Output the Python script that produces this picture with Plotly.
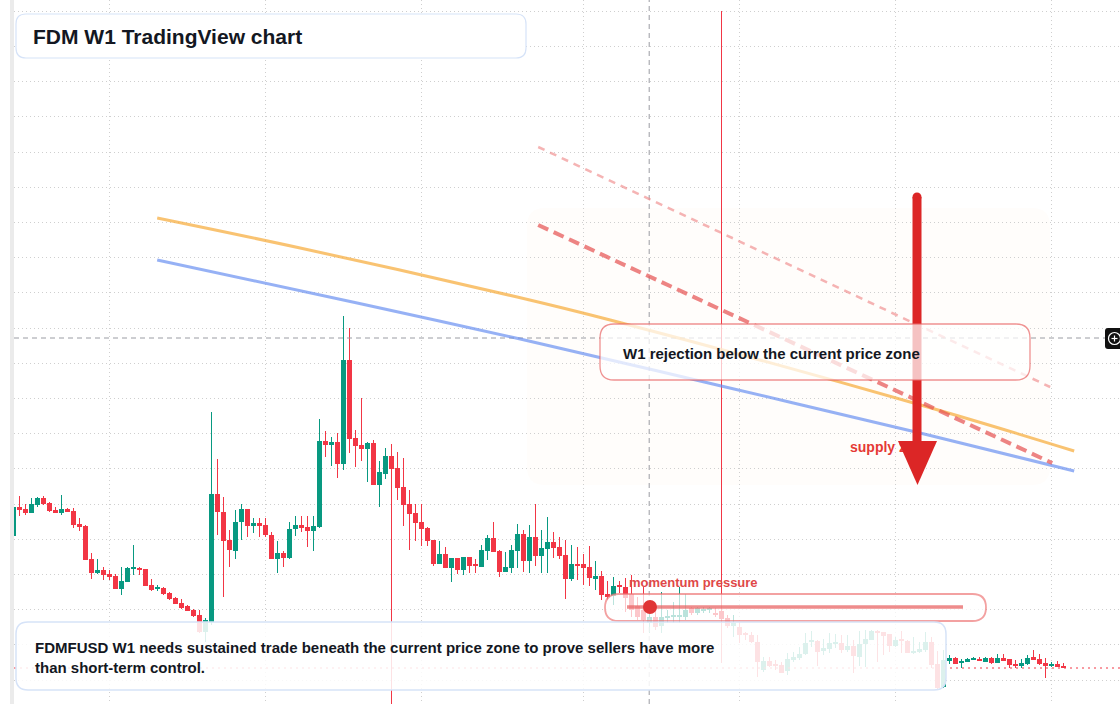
import numpy as np
import plotly.graph_objects as go

# ---------------- data (weekly FDMFUSD candles, price x 1/1000) ----------------
OPEN = [164,193,191,187,195,202,197,190,187,191,189,176,174,141,127,130,126,124,111,118,
        131,132,131,115,111,112,107,102,97,94,90,85,68,78,206,188,160,149,178,191,
        174,177,175,165,141,147,142,171,175,173,169,173,259,255,258,236,340,262,255,251,
        257,215,226,244,232,213,196,187,178,172,160,136,146,132,142,130,143,135,133,149,
        162,149,128,132,149,166,139,163,144,151,158,153,145,121,136,136,133,121,124,106,
        104,114,113,106,94,90,77,83,74,82,83,83,83,92,87,89,90,87,89,82,
        74,73,66,65,58,30,39,35,35,29,40,42,46,58,59,49,51,56,57,50,
        54,43,56,60,69,68,66,54,60,59,47,48,50,58,36,13,39,42,37,38,
        40,41,38,42,37,42,41,36,34,36,43,41,37,34,36,34]
HIGH = [195,204,196,202,203,204,198,193,205,192,192,182,175,147,141,133,130,126,133,133,
        155,133,131,121,115,113,108,103,101,95,91,90,82,288,241,203,170,190,196,191,
        182,182,182,168,159,149,178,184,184,184,184,281,269,263,267,384,372,270,302,258,
        260,239,252,256,248,242,210,196,196,173,160,159,153,142,142,143,143,141,155,165,
        178,150,148,155,176,170,175,196,170,183,168,163,160,155,153,146,154,139,129,119,
        123,119,122,125,103,113,90,90,108,90,98,113,106,93,93,93,93,92,689,85,
        85,78,68,68,65,43,43,40,38,47,48,53,67,69,60,61,67,66,65,65,
        60,69,70,70,70,68,66,63,69,60,63,58,68,63,49,50,45,43,41,42,
        43,43,43,43,46,46,41,40,41,45,50,46,42,38,39,37]
LOW = [163,184,185,187,193,195,188,187,185,188,172,169,140,121,126,120,120,111,105,118,
       125,125,114,109,109,105,100,96,91,89,83,67,58,75,165,103,133,141,160,163,
       167,163,163,141,127,133,141,164,168,153,149,172,243,234,222,230,247,233,239,218,
       215,193,221,-20,200,174,150,159,154,154,134,136,132,118,126,125,127,127,133,140,
       148,123,128,127,132,128,127,134,127,127,142,141,101,119,120,115,114,110,100,100,
       95,107,88,83,80,67,67,70,67,77,77,77,80,85,85,87,87,83,37,72,
       63,57,60,57,23,28,33,30,27,25,38,40,45,53,34,45,47,52,47,48,
       27,34,33,60,38,45,48,53,47,47,46,47,48,32,10,12,36,36,32,38,
       40,39,38,36,37,39,32,32,32,35,40,35,22,33,33,32]
CLOSE = [193,190,187,196,202,196,189,187,191,188,175,173,140,127,130,125,123,111,119,132,
         132,130,114,110,112,106,101,96,92,89,84,68,80,206,188,159,150,178,191,174,
         177,174,165,141,147,142,171,175,172,169,174,259,255,258,236,340,261,254,251,257,
         215,228,244,231,212,195,186,177,171,159,136,146,132,142,130,143,134,134,150,162,
         148,128,133,150,166,139,163,144,152,158,152,144,121,136,134,132,122,124,105,103,
         114,113,102,90,83,80,83,73,83,83,84,84,90,87,92,91,92,85,81,74,
         77,65,65,58,38,39,34,34,27,41,43,46,57,59,48,52,57,57,50,54,
         44,56,61,69,67,64,54,60,59,47,49,51,58,35,12,40,42,36,38,41,
         41,39,42,37,42,39,35,34,37,42,40,36,34,36,33,32]
PRICE_SCALE = 1000.0
GRID_BARS = [16, 42, 68, 95, 121, 147, 173]   # half-year separators (bar index)
GRID_PRICE0, GRID_PRICE_STEP = 0.020, 0.0352
CURRENT_PRICE = CLOSE[-1] / PRICE_SCALE
CROSS_BAR, CROSS_PRICE = 106, 0.362

# drawings (bar index, price)
ORANGE_X = [23.95, 47.78, 83.95, 99.45, 151.78, 176.78]
ORANGE_Y = [0.482, 0.452, 0.403, 0.380, 0.294, 0.249]
BLUE_X = [23.95, 57.28, 84.45, 117.95, 151.78, 176.78]
BLUE_Y = [0.440, 0.397, 0.361, 0.314, 0.266, 0.229]
RED_DASH_X = [87.45, 173.12]
RED_DASH_Y = [0.475, 0.237]
PINK_DASH_X = [87.45, 172.78]
PINK_DASH_Y = [0.553, 0.313]

# ---------------- helpers (pixel design grid -> axes) ----------------
X_OFF = 13.5

def X(px):
    return (px - X_OFF) / 6.0

def Y(py):
    return (700.0 - py) / 1000.0

def rrect(px0, py0, px1, py1, r):
    x0, x1, y0, y1 = X(px0), X(px1), Y(py0), Y(py1)
    rx, ry = r / 6.0, r / 1000.0
    return (f"M{x0+rx},{y0} L{x1-rx},{y0} Q{x1},{y0} {x1},{y0-ry} "
            f"L{x1},{y1+ry} Q{x1},{y1} {x1-rx},{y1} L{x0+rx},{y1} "
            f"Q{x0},{y1} {x0},{y1+ry} L{x0},{y0-ry} Q{x0},{y0} {x0+rx},{y0} Z")

o = np.array(OPEN) / PRICE_SCALE
h = np.array(HIGH) / PRICE_SCALE
l = np.array(LOW) / PRICE_SCALE
c = np.array(CLOSE) / PRICE_SCALE
idx = np.arange(len(o))
up = c >= o

GREEN = "#089981"
RED = "#f23645"
FONT = "Liberation Sans, Arial, sans-serif"
DARK = "#131722"
GRID = "#cfcfcf"

fig = go.Figure()

# wicks
for mask, col in ((up, GREEN), (~up, RED)):
    wx, wy = [], []
    for i in idx[mask]:
        wx += [i, i, None]
        wy += [l[i], h[i], None]
    fig.add_trace(go.Scatter(x=wx, y=wy, mode="lines", line=dict(color=col, width=1),
                             hoverinfo="skip", showlegend=False))
# bodies
for mask, col in ((up, GREEN), (~up, RED)):
    base = np.minimum(o, c)[mask]
    hgt = np.maximum(np.abs(c - o)[mask], 0.0013)
    fig.add_trace(go.Bar(x=idx[mask], y=hgt, base=base, width=0.75,
                         marker=dict(color=col, line=dict(width=0)),
                         hoverinfo="skip", showlegend=False))

xr = [X(14), X(1120)]
yr = [Y(704), Y(0)]

# crosshair + current price line
fig.add_trace(go.Scatter(x=[xr[0], X(1105)], y=[CROSS_PRICE, CROSS_PRICE], mode="lines",
                         line=dict(color="#9a9ca3", width=1, dash="5px,4px"),
                         hoverinfo="skip", showlegend=False))
fig.add_trace(go.Scatter(x=[CROSS_BAR - 0.05, CROSS_BAR - 0.05], y=yr, mode="lines",
                         line=dict(color="#9a9ca3", width=1, dash="5px,4px"),
                         hoverinfo="skip", showlegend=False))
fig.add_trace(go.Scatter(x=xr, y=[CURRENT_PRICE, CURRENT_PRICE], mode="lines",
                         line=dict(color=RED, width=1, dash="2px,4px"),
                         hoverinfo="skip", showlegend=False))

# trend drawings
fig.add_trace(go.Scatter(x=PINK_DASH_X, y=PINK_DASH_Y, mode="lines",
                         line=dict(color="rgba(240,140,140,0.65)", width=2.5, dash="7px,6px"),
                         hoverinfo="skip", showlegend=False))
fig.add_trace(go.Scatter(x=ORANGE_X, y=ORANGE_Y, mode="lines", line_shape="spline",
                         line=dict(color="rgba(246,172,60,0.72)", width=3),
                         hoverinfo="skip", showlegend=False))
fig.add_trace(go.Scatter(x=BLUE_X, y=BLUE_Y, mode="lines", line_shape="spline",
                         line=dict(color="rgba(100,140,240,0.68)", width=3),
                         hoverinfo="skip", showlegend=False))
fig.add_trace(go.Scatter(x=RED_DASH_X, y=RED_DASH_Y, mode="lines",
                         line=dict(color="rgba(230,85,85,0.72)", width=4, dash="11px,6px"),
                         hoverinfo="skip", showlegend=False))
fig.add_trace(go.Scatter(x=[X(850)], y=[Y(448)], mode="text", text=["supply zone"],
                         textposition="middle right",
                         textfont=dict(family=FONT, size=14, color="#e53935", weight="bold"),
                         hoverinfo="skip", showlegend=False))

shapes = []
# supply zone
shapes.append(dict(type="path", path=rrect(527, 208, 1050, 485, 18), xref="x", yref="y",
                   fillcolor="rgba(250,232,210,0.09)", line=dict(width=0), layer="below"))
# arrow
shapes.append(dict(type="line", xref="x", yref="y", x0=X(917), x1=X(917), y0=Y(197), y1=Y(445),
                   line=dict(color="#dc2626", width=9), layer="above"))
shapes.append(dict(type="circle", xref="x", yref="y", x0=X(912.5), x1=X(921.5), y0=Y(192.5),
                   y1=Y(201.5), fillcolor="#dc2626", line=dict(width=0), layer="above"))
shapes.append(dict(type="path", xref="x", yref="y",
                   path=f"M{X(898)},{Y(441)} L{X(937)},{Y(441)} L{X(917.5)},{Y(485)} Z",
                   fillcolor="#dc2626", line=dict(width=0), layer="above"))
# W1 rejection box
shapes.append(dict(type="path", path=rrect(600, 324, 1030, 380, 14), xref="x", yref="y",
                   fillcolor="rgba(255,255,255,0.72)", line=dict(color="rgba(232,100,100,0.7)", width=1.3),
                   layer="above"))
# momentum pill
shapes.append(dict(type="path", path=rrect(605, 594, 986, 621, 13.5), xref="x", yref="y",
                   fillcolor="rgba(255,255,255,0.72)", line=dict(color="rgba(236,110,110,0.65)", width=1.8),
                   layer="above"))
shapes.append(dict(type="line", xref="x", yref="y", x0=X(627), x1=X(963), y0=Y(607), y1=Y(607),
                   line=dict(color="rgba(232,95,95,0.72)", width=3.5), layer="above"))
shapes.append(dict(type="circle", xref="x", yref="y", x0=X(643), x1=X(657), y0=Y(614), y1=Y(600),
                   fillcolor="#e03535", line=dict(width=0), layer="above"))
# bottom note box
shapes.append(dict(type="path", path=rrect(16, 622, 946, 690, 12), xref="x", yref="y",
                   fillcolor="rgba(255,255,255,0.86)", line=dict(color="#d6e3f8", width=1.5),
                   layer="above"))
# title box
shapes.append(dict(type="path", path=rrect(16, 14, 526, 58, 10), xref="x", yref="y",
                   fillcolor="#ffffff", line=dict(color="#d6e3f8", width=1.2), layer="above"))
# crosshair price label (right edge)
shapes.append(dict(type="path", path=rrect(1105, 328, 1126, 349, 3), xref="x", yref="y",
                   fillcolor="#111111", line=dict(width=0), layer="above"))
shapes.append(dict(type="circle", xref="x", yref="y", x0=X(1108.5), x1=X(1120.5), y0=Y(344.5),
                   y1=Y(332.5), line=dict(color="#ffffff", width=1.2), layer="above"))
shapes.append(dict(type="line", xref="x", yref="y", x0=X(1111.5), x1=X(1117.5), y0=Y(338.5),
                   y1=Y(338.5), line=dict(color="#ffffff", width=1.2), layer="above"))
shapes.append(dict(type="line", xref="x", yref="y", x0=X(1114.5), x1=X(1114.5), y0=Y(335.5),
                   y1=Y(341.5), line=dict(color="#ffffff", width=1.2), layer="above"))
# left strip
shapes.append(dict(type="rect", xref="paper", yref="paper", x0=-4 / 1106, x1=0, y0=0, y1=1,
                   fillcolor="#ebebeb", line=dict(width=0), layer="above"))

annotations = [
    dict(x=X(31), y=Y(36), xref="x", yref="y", xanchor="left", yanchor="middle", showarrow=False,
         text="FDM W1 TradingView chart", font=dict(family=FONT, size=21, color=DARK, weight="bold")),
    dict(x=X(33), y=Y(657), xref="x", yref="y", xanchor="left", yanchor="middle", showarrow=False,
         align="left",
         text="FDMFUSD W1 needs sustained trade beneath the current price zone to prove sellers have more"
              "<br>than short-term control.",
         font=dict(family=FONT, size=15, color=DARK, weight="bold")),
    dict(x=X(621), y=Y(353), xref="x", yref="y", xanchor="left", yanchor="middle", showarrow=False,
         text="W1 rejection below the current price zone",
         font=dict(family=FONT, size=15, color=DARK, weight="bold")),
    dict(x=X(627), y=Y(582), xref="x", yref="y", xanchor="left", yanchor="middle", showarrow=False,
         text="momentum pressure", font=dict(family=FONT, size=13, color="#e04848", weight="bold")),
]

fig.update_layout(
    width=1120, height=704,
    margin=dict(l=14, r=0, t=0, b=0),
    paper_bgcolor="#ffffff", plot_bgcolor="#ffffff",
    barmode="overlay", bargap=0, showlegend=False,
    shapes=shapes, annotations=annotations,
    xaxis=dict(range=xr, tickvals=GRID_BARS, showticklabels=False, ticks="", showgrid=True,
               gridcolor=GRID, griddash="1px,3px", gridwidth=1, zeroline=False, showline=False,
               fixedrange=True),
    yaxis=dict(range=yr, tick0=GRID_PRICE0, dtick=GRID_PRICE_STEP, showticklabels=False, ticks="",
               showgrid=True, gridcolor=GRID, griddash="1px,3px", gridwidth=1, zeroline=False,
               showline=False, fixedrange=True),
)

fig.write_html("out.html", config={"displayModeBar": False})
